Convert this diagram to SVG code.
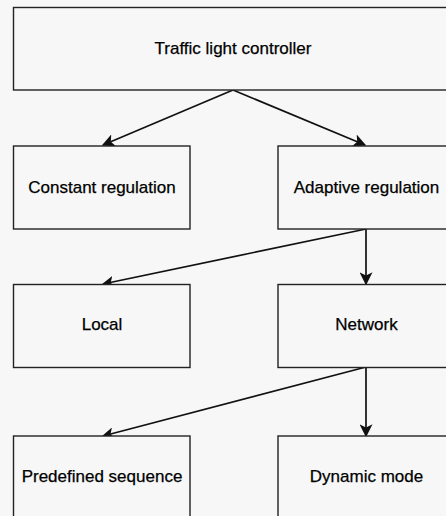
<svg xmlns="http://www.w3.org/2000/svg" width="446" height="516" viewBox="0 0 446 516">
<defs>
<style>
.box{fill:#f7f7f7;stroke:#222;stroke-width:1.4}
.lbl{font-family:"Liberation Sans",Arial,sans-serif;font-size:17px;fill:#000;stroke:#000;stroke-width:0.25;text-anchor:middle;dominant-baseline:central}
.edge{fill:none;stroke:#111;stroke-width:1.7}
</style>
<marker id="arr" viewBox="0 0 10 10" refX="9" refY="5" markerWidth="12" markerHeight="12" markerUnits="userSpaceOnUse" orient="auto">
<path d="M0,0 L10,5 L0,10 L2.5,5 Z" fill="#111"/>
</marker>
<marker id="arrb" viewBox="0 0 10 10" refX="9" refY="5" markerWidth="13" markerHeight="13" markerUnits="userSpaceOnUse" orient="auto">
<path d="M0,0 L10,5 L0,10 L2.5,5 Z" fill="#111"/>
</marker>
</defs>
<rect width="446" height="516" fill="#f7f7f7"/>
<g id="connectors">
<line class="edge" x1="233" y1="90" x2="103" y2="145" marker-end="url(#arrb)"/>
<line class="edge" x1="233" y1="90" x2="365" y2="145" marker-end="url(#arrb)"/>
<line class="edge" x1="366" y1="229" x2="103" y2="284" marker-end="url(#arr)"/>
<line class="edge" x1="366" y1="229" x2="366" y2="284" marker-end="url(#arrb)"/>
<line class="edge" x1="366" y1="367" x2="103" y2="436" marker-end="url(#arr)"/>
<line class="edge" x1="366" y1="367" x2="366" y2="436" marker-end="url(#arrb)"/>
</g>
<g id="controller"><rect class="box" x="13.5" y="7.5" width="440" height="82.5"/><text class="lbl" x="233" y="48">Traffic light controller</text></g>
<g id="constant"><rect class="box" x="13.5" y="146" width="176.5" height="83"/><text class="lbl" x="102" y="187">Constant regulation</text></g>
<g id="adaptive"><rect class="box" x="278" y="146" width="177" height="83"/><text class="lbl" x="366.5" y="187">Adaptive regulation</text></g>
<g id="local"><rect class="box" x="13.5" y="284.5" width="176.5" height="83"/><text class="lbl" x="102" y="324.5">Local</text></g>
<g id="network"><rect class="box" x="278" y="284.5" width="177" height="83"/><text class="lbl" x="366.5" y="324.5">Network</text></g>
<g id="predefined"><rect class="box" x="13.5" y="436" width="176.5" height="83"/><text class="lbl" x="102" y="476.5">Predefined sequence</text></g>
<g id="dynamic"><rect class="box" x="278" y="436" width="177" height="83"/><text class="lbl" x="366.5" y="476.5">Dynamic mode</text></g>
</svg>
